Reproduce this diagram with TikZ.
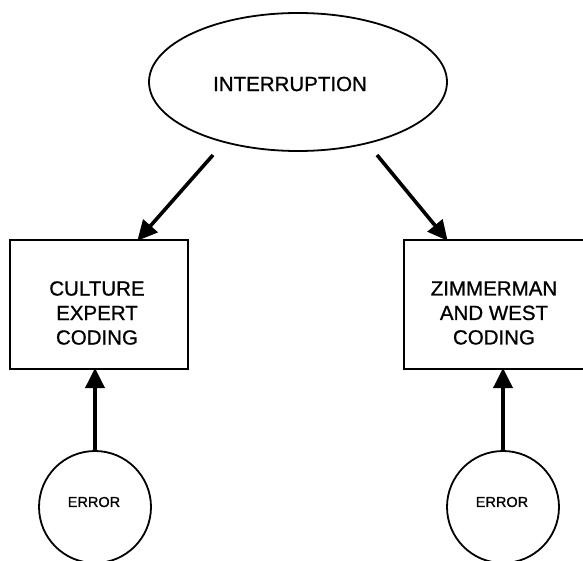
\documentclass[tikz,border=0pt]{standalone}
\usepackage{fontspec}
\setmainfont{Liberation Sans}
\newfontfamily\labelfont[FakeBold=0.9]{Liberation Sans}
\usetikzlibrary{arrows.meta}
\begin{document}
\begin{tikzpicture}[x=1pt,y=-1pt,
  outline/.style={draw=black,line width=1.8pt},
  bigtext/.style={font=\labelfont\fontsize{20.5}{24.5}\selectfont,align=center},
  smalltext/.style={font=\labelfont\fontsize{14.5}{17}\selectfont},
  link/.style={line width=3.6pt,-{Triangle[length=20pt,width=19pt]},shorten >=-1pt}]
  \useasboundingbox (0,0) rectangle (583,561);
  % source construct
  \draw[outline] (298,82) ellipse [x radius=149, y radius=69];
  \node[bigtext] (intr) at (290,84) {INTERRUPTION};
  % the two coding boxes
  \draw[outline] (10,240) rectangle (188,369);
  \node[bigtext] (cult) at (97,313) {CULTURE\\EXPERT\\CODING};
  \draw[outline] (404,240) rectangle (586,369);
  \node[bigtext] (zw) at (494,313) {ZIMMERMAN\\AND WEST\\CODING};
  % error terms
  \draw[outline] (95,507) circle [radius=56];
  \node[smalltext] (errl) at (94,502) {ERROR};
  \draw[outline] (503,507) circle [radius=56];
  \node[smalltext] (errr) at (502,502) {ERROR};
  % arrow end points on the shapes
  \coordinate (a1) at (213,155);
  \coordinate (b1) at (138,240);
  \coordinate (a2) at (377,155);
  \coordinate (b2) at (447,240);
  \coordinate (c1) at (95,451);
  \coordinate (d1) at (95,369);
  \coordinate (c2) at (503,451);
  \coordinate (d2) at (503,369);
  \draw[link] (a1) -- (b1);
  \draw[link] (a2) -- (b2);
  \draw[link] (c1) -- (d1);
  \draw[link] (c2) -- (d2);
\end{tikzpicture}
\end{document}
